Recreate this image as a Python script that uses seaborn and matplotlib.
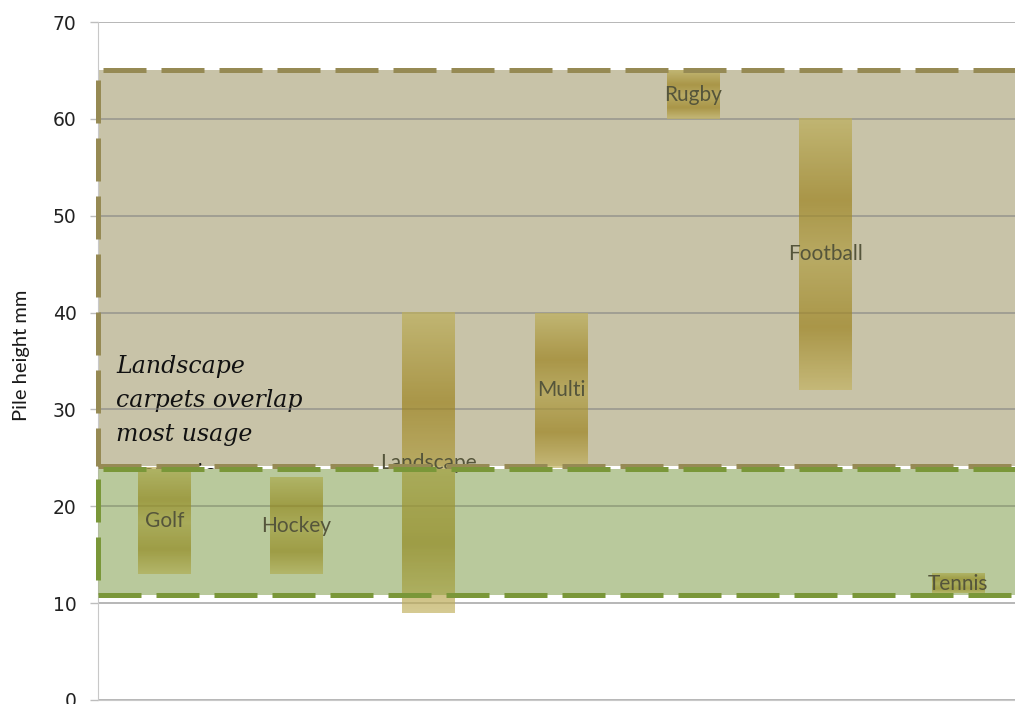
import numpy as np
import pandas as pd
import matplotlib
matplotlib.use("Agg")
import matplotlib.pyplot as plt
from matplotlib.patches import Rectangle
import seaborn as sns

# --- Data ---
categories = ["Golf", "Hockey", "Landscape", "Multi", "Rugby", "Football", "Tennis"]
pile_low = [13, 13, 9, 24, 60, 32, 11]
pile_high = [24, 23, 40, 40, 65, 60, 13]

# usage zones (lower, upper) in mm
sports_zone = (24.2, 65.0)
landscape_zone = (10.8, 23.9)

note_lines = ["Landscape", "carpets overlap", "most usage", "scenarios"]

df = pd.DataFrame({"sport": categories, "low": pile_low, "high": pile_high})
df["span"] = df["high"] - df["low"]

# --- Plot ---
sns.set_style("white")
fig = plt.figure(figsize=(10.15, 7.04), dpi=100)
ax = fig.add_axes([0.0966, 0.0057, 0.9034, 0.963])

sns.barplot(data=df, x="sport", y="span", bottom=df["low"], width=0.4,
            order=categories, color="#b09b4c", ax=ax, zorder=4)

# gradient fill for each bar (light ends, two darker bands)
stops = [0.0, 0.3, 0.52, 0.77, 1.0]
cols = np.array([[190, 176, 92], [157, 131, 31], [178, 160, 70],
                 [157, 131, 31], [196, 180, 100]]) / 255.0
t = np.linspace(0, 1, 200)
grad = np.stack([np.interp(t, stops, cols[:, i]) for i in range(3)], axis=1)
grad = grad[:, None, :]
for p in ax.patches:
    x0, y0 = p.get_x(), p.get_y()
    w, h = p.get_width(), p.get_height()
    ax.imshow(grad, extent=[x0, x0 + w, y0, y0 + h], origin="upper",
              aspect="auto", alpha=0.7, zorder=4, interpolation="bilinear")
    p.set_facecolor("none")
    p.set_edgecolor("none")

# bar labels at the middle of each range
for i, (lo, hi) in enumerate(zip(pile_low, pile_high)):
    ax.text(i, (lo + hi) / 2, categories[i], ha="center", va="center",
            fontsize=15, color="#55553b", family=["Lato", "DejaVu Sans"], zorder=5)

# zone rectangles
xl = -0.5
lz_h = landscape_zone[1] - landscape_zone[0]
sz_h = sports_zone[1] - sports_zone[0]
tan_fill = Rectangle((xl, sports_zone[0]), 8, sz_h,
                     facecolor="#c8c3a8", edgecolor="none", zorder=0.2)
ax.add_patch(tan_fill)
ax.add_patch(Rectangle((xl, landscape_zone[0]), 8, lz_h,
                       facecolor="#cfd7c4", edgecolor="none", zorder=0.4))
# translucent green wash over the bars in the landscape zone
ax.add_patch(Rectangle((xl, landscape_zone[0]), 8, lz_h,
                       facecolor="#78a028", alpha=0.25, edgecolor="none", zorder=4.5))

tan_b = Rectangle((xl, sports_zone[0]), 8, sz_h, facecolor="none", edgecolor="#968a54",
                  lw=3.6, linestyle=(0, (8.6, 3.0)), zorder=6, clip_on=False)
green_b = Rectangle((xl, landscape_zone[0]), 8, lz_h, facecolor="none", edgecolor="#7a9739",
                    lw=3.6, linestyle=(0, (8.6, 3.0)), zorder=6, clip_on=False)
for b in (tan_b, green_b):
    b.set_capstyle("butt")
    ax.add_patch(b)

# note text inside the tan zone; the last line is cut by the zone edge
for k, line in enumerate(note_lines):
    yb = 33.76 - k * 3.51 - (0.65 if k == 3 else 0)
    txt = ax.text(-0.365, yb, line, ha="left", va="baseline", fontsize=17,
                  style="italic", family=["DejaVu Serif"], color="#111111", zorder=0.3)
    txt.set_clip_path(tan_fill)

# axes styling
ax.set_xlim(-0.5, 6.43)
ax.set_ylim(0, 70)
ax.set_yticks(range(0, 71, 10))
ax.set_xticks([])
ax.set_xlabel("")
ax.set_ylabel("Pile height mm", fontsize=14.5, family=["Lato", "DejaVu Sans"],
              color="#1a1a1a")
ax.yaxis.set_label_coords(-0.074, 0.509)
ax.tick_params(axis="y", labelsize=13.5, colors="#222222", length=6, width=1, color="#bdbdbd",
               pad=9.4, direction="out", left=True)
for lab in ax.get_yticklabels():
    lab.set_color("#222222")
ax.grid(axis="y", color="#858585", lw=1.1, alpha=0.75)
ax.set_axisbelow(True)
for s in ("top", "right"):
    ax.spines[s].set_visible(False)
ax.spines["left"].set_color("#c8c8c8")
ax.spines["bottom"].set_color("#c8c8c8")

fig.savefig("out.png", dpi=100)
